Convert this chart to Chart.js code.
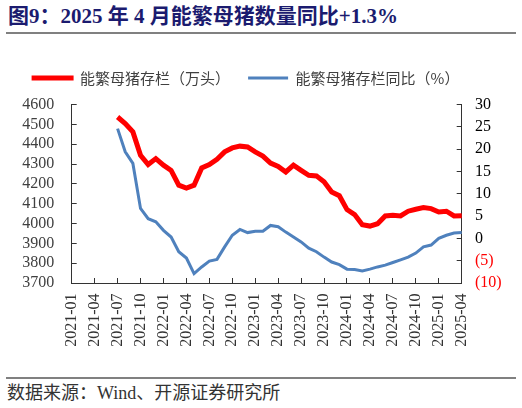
<!DOCTYPE html>
<html>
<head>
<meta charset="utf-8">
<script src="https://cdn.jsdelivr.net/npm/chart.js@4"></script>
<style>
  body { margin: 0; background: #fff; }
  #page { position: relative; width: 522px; height: 408px; overflow: hidden; }
  #title { position: absolute; left: 8px; top: 4px; font: bold 21px/24px "Liberation Serif", "Noto Sans CJK SC"; color: #1b1b6f; white-space: nowrap; }
  .rule { position: absolute; left: 6px; width: 510px; height: 2px; background: #808080; }
  #source { position: absolute; left: 7px; top: 383px; font: 18px/20px "Liberation Serif", "Noto Sans CJK SC"; color: #333; white-space: nowrap; }
  #box { position: absolute; left: 0; top: 40px; width: 522px; height: 313px; }
</style>
</head>
<body>
<div id="page">
  <div id="title">图9：2025 年 4 月能繁母猪数量同比+1.3%</div>
  <div class="rule" style="top:32px"></div>
  <div id="box"><canvas id="canvas" width="522" height="313"></canvas></div>
  <div class="rule" style="top:377px"></div>
  <div id="source">数据来源：Wind、开源证券研究所</div>
</div>
<script>
// months on the x axis, 2021-01 .. 2025-04
var months = [
  '2021-01','2021-02','2021-03','2021-04','2021-05','2021-06','2021-07','2021-08','2021-09','2021-10','2021-11','2021-12',
  '2022-01','2022-02','2022-03','2022-04','2022-05','2022-06','2022-07','2022-08','2022-09','2022-10','2022-11','2022-12',
  '2023-01','2023-02','2023-03','2023-04','2023-05','2023-06','2023-07','2023-08','2023-09','2023-10','2023-11','2023-12',
  '2024-01','2024-02','2024-03','2024-04','2024-05','2024-06','2024-07','2024-08','2024-09','2024-10','2024-11','2024-12',
  '2025-01','2025-02','2025-03','2025-04'
];

// 能繁母猪存栏 (万头), data starts 2021-07
var sowStock = [
  null, null, null, null, null, null,
  4537, 4504, 4462, 4344, 4297, 4327,
  4294, 4268, 4193, 4179, 4193, 4280, 4297, 4324, 4361, 4381, 4390, 4386,
  4361, 4340, 4305, 4288, 4260, 4294, 4268, 4243, 4240, 4210, 4159, 4140,
  4070, 4045, 3994, 3987, 3999, 4038, 4041, 4038, 4062, 4072, 4080, 4075,
  4058, 4062, 4038, 4039
];

// 能繁母猪存栏同比 (%)
var sowYoY = [
  null, null, null, null, null, null,
  24.6, 19.4, 16.8, 6.7, 4.4, 3.7,
  1.8, 0.3, -3.0, -4.4, -7.9, -6.4, -5.1, -4.7, -1.9, 0.7, 2.0, 1.3,
  1.6, 1.6, 2.9, 2.6, 1.4, 0.3, -0.8, -2.2, -3.0, -4.2, -5.3, -5.9,
  -6.9, -7.0, -7.3, -6.9, -6.4, -6.0, -5.4, -4.8, -4.2, -3.3, -1.9, -1.5,
  0.0, 0.7, 1.2, 1.3
];

var leftTicks = { min: 3700, max: 4600, step: 100 };
var rightTicks = { min: -10, max: 30, step: 5 };

var axisFont = { family: '"Liberation Serif", "Times New Roman", serif', size: 16 };

// leave a little air between the legend row and the plot
var legendGap = {
  id: 'legendGap',
  beforeLayout: function (chart) {
    var lg = chart.legend;
    if (lg && !lg._gapDone) {
      var fit = lg.fit;
      lg.fit = function () { fit.call(this); this.height += 9; };
      lg._gapDone = true;
    }
  }
};

var ctx = document.getElementById('canvas').getContext('2d');
var myChart = new Chart(ctx, {
  type: 'line',
  data: {
    labels: months,
    datasets: [{
      label: '能繁母猪存栏（万头）',
      data: sowStock,
      borderColor: '#ff0000',
      backgroundColor: '#ff0000',
      borderWidth: 5,
      pointRadius: 0,
      tension: 0,
      yAxisID: 'y'
    }, {
      label: '能繁母猪存栏同比（%）',
      data: sowYoY,
      borderColor: '#4f81bd',
      backgroundColor: '#4f81bd',
      borderWidth: 3,
      pointRadius: 0,
      tension: 0,
      yAxisID: 'y1'
    }]
  },
  options: {
    responsive: false,
    animation: false,
    // negative left padding shifts the centred legend to where it sits in the original
    layout: { padding: { top: 12.5, right: 0, left: -30, bottom: 0 } },
    plugins: {
      tooltip: { enabled: false },
      legend: {
        display: true,
        position: 'top',
        labels: {
          boxWidth: 40,
          boxHeight: 3,
          padding: 18,
          color: '#404040',
          font: { family: '"Noto Sans CJK SC", sans-serif', size: 15 },
          generateLabels: function (chart) {
            var items = Chart.defaults.plugins.legend.labels.generateLabels(chart);
            items.forEach(function (it, i) {
              it.lineWidth = i === 0 ? 2 : 0;
            });
            return items;
          }
        }
      }
    },
    scales: {
      x: {
        type: 'category',
        offset: false,
        grid: {
          drawOnChartArea: false,
          tickLength: -5,
          tickColor: function (c) { return c.index % 3 === 0 ? '#333' : 'rgba(0,0,0,0)'; }
        },
        border: { color: '#333', width: 1 },
        ticks: {
          autoSkip: false,
          minRotation: 90,
          maxRotation: 90,
          padding: 15.5,
          color: '#333',
          font: axisFont,
          callback: function (value, index) {
            return index % 3 === 0 ? this.getLabelForValue(value) : '';
          }
        },
        afterFit: function (scale) { scale.height = 70; }
      },
      y: {
        position: 'left',
        min: leftTicks.min,
        max: leftTicks.max,
        grid: { drawOnChartArea: false, tickLength: -5, tickColor: '#333' },
        border: { color: '#333', width: 1 },
        ticks: {
          stepSize: leftTicks.step,
          autoSkip: false,
          padding: 22.4,
          color: '#404040',
          font: axisFont,
          callback: function (v) { return String(v); }
        },
        afterFit: function (scale) { scale.width = 101.7; }
      },
      y1: {
        position: 'right',
        min: rightTicks.min,
        max: rightTicks.max,
        grid: { drawOnChartArea: false, tickLength: -5, tickColor: '#333' },
        border: { color: '#333', width: 1 },
        ticks: {
          stepSize: rightTicks.step,
          autoSkip: false,
          padding: 18.3,
          font: axisFont,
          color: function (c) { return c.tick && c.tick.value < 0 ? '#ff0000' : '#000'; },
          callback: function (v) { return v < 0 ? '(' + Math.abs(v) + ')' : String(v); }
        },
        afterFit: function (scale) { scale.width = 60.3; }
      }
    }
  },
  plugins: [legendGap]
});
</script>
</body>
</html>
